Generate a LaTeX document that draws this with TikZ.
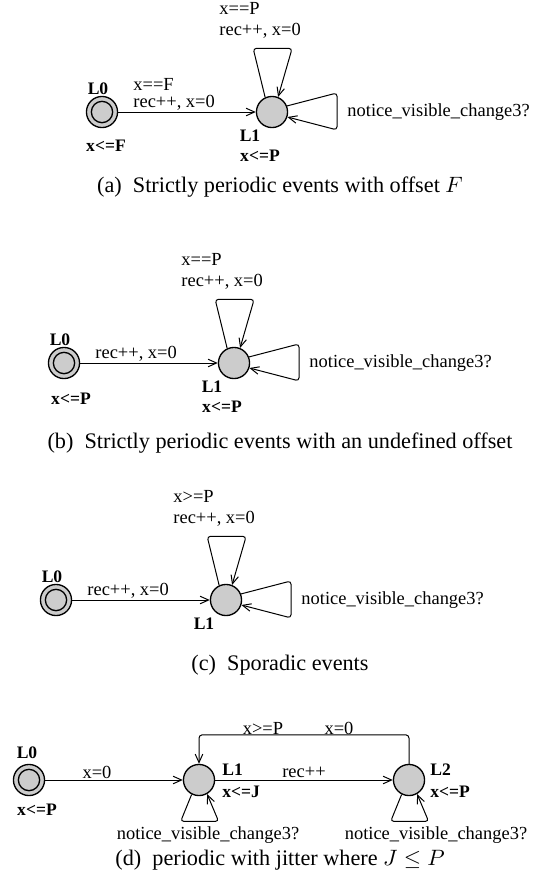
\documentclass[tikz,border=0pt]{standalone}
\usepackage{fontspec}
\setmainfont{Liberation Serif}
\usetikzlibrary{arrows.meta}

\tikzset{
  loc/.style={circle,draw,line width=0.6pt,fill=gray!40,minimum size=14pt,inner sep=0pt},
  initloc/.style={loc,path picture={\draw[line width=0.6pt] (path picture bounding box.center) circle (4.8pt);}},
  lbl/.style={inner sep=0pt,font=\fontsize{8.3}{10}\selectfont},
  boldlbl/.style={inner sep=0pt,font=\fontsize{7.9}{9.5}\selectfont\bfseries},
  subcap/.style={inner sep=0pt,font=\fontsize{10}{12}\selectfont},
  trans/.style={-{Straight Barb[length=3.8pt,width=3.4pt]},line width=0.45pt},
  loopy/.style={trans,rounded corners=1.5pt}
}

\begin{document}
\begin{tikzpicture}[x=0.45pt,y=-0.45pt]
\useasboundingbox (0,0) rectangle (549,881);

% (a) strictly periodic, offset F
\node[initloc] (a0) at (102,112) {};
\node[loc] (a1) at (272,112) {};
\node[boldlbl] (a0n) at (98,89) {L0};
\node[boldlbl] (a0i) at (106,146) {x<=F};
\node[boldlbl] (a1n) at (250,136) {L1};
\node[boldlbl] (a1i) at (260,156) {x<=P};
\draw[trans] (a0) -- (a1);
\node[lbl,anchor=west] (a01g) at (133,84) {x==F};
\node[lbl,anchor=west] (a01u) at (133,103) {rec++, x=0};
\node[lbl,anchor=west] (a11g) at (219,8) {x==P};
\node[lbl,anchor=west] (a11u) at (219,31) {rec++, x=0};
\node[lbl,anchor=west] (a11s) at (347,112) {notice\_visible\_change3?};
\node[subcap] (capa) at (280,187) {(a)\enspace Strictly periodic events with offset $F$};

% (b) strictly periodic, no offset
\node[initloc] (b0) at (64,363) {};
\node[loc] (b1) at (234,363) {};
\node[boldlbl] (b0n) at (60,340) {L0};
\node[boldlbl] (b0i) at (71,399) {x<=P};
\node[boldlbl] (b1n) at (212,387) {L1};
\node[boldlbl] (b1i) at (222,407) {x<=P};
\draw[trans] (b0) -- (b1);
\node[lbl,anchor=west] (b01u) at (95,354) {rec++, x=0};
\node[lbl,anchor=west] (b11g) at (181,259) {x==P};
\node[lbl,anchor=west] (b11u) at (181,282) {rec++, x=0};
\node[lbl,anchor=west] (b11s) at (309,363) {notice\_visible\_change3?};
\node[subcap] (capb) at (280,443) {(b)\enspace Strictly periodic events with an undefined offset};

% (c) sporadic
\node[initloc] (c0) at (56,600) {};
\node[loc] (c1) at (226,600) {};
\node[boldlbl] (c0n) at (52,577) {L0};
\node[boldlbl] (c1n) at (204,624) {L1};
\draw[trans] (c0) -- (c1);
\node[lbl,anchor=west] (c01u) at (87,591) {rec++, x=0};
\node[lbl,anchor=west] (c11g) at (173,496) {x>=P};
\node[lbl,anchor=west] (c11u) at (173,519) {rec++, x=0};
\node[lbl,anchor=west] (c11s) at (301,600) {notice\_visible\_change3?};
\node[subcap] (capc) at (280,665) {(c)\enspace Sporadic events};

% self loops of (a)-(c)
\foreach \n in {a1,b1,c1} {
  \draw[loopy] (\n.115) -- ++(-12,-49) -- ++(39,0) -- (\n.68);
  \draw[loopy] (\n.22) -- ++(50,-13) -- ++(0,37) -- (\n.-18);
}

% (d) periodic with jitter
\node[initloc] (d0) at (29,780) {};
\node[loc] (d1) at (199,780) {};
\node[loc] (d2) at (409,780) {};
\node[boldlbl] (d0n) at (27,753) {L0};
\node[boldlbl] (d0i) at (37,810) {x<=P};
\node[boldlbl,anchor=west] (d1n) at (222,770) {L1};
\node[boldlbl,anchor=west] (d1i) at (222,792) {x<=J};
\node[boldlbl,anchor=west] (d2n) at (430,770) {L2};
\node[boldlbl,anchor=west] (d2i) at (430,792) {x<=P};
\draw[trans] (d0) -- (d1);
\draw[trans] (d1) -- (d2);
\draw[loopy] (d2.north) -- ++(0,-29) -| (d1.north);
\node[lbl] (d01u) at (97,772) {x=0};
\node[lbl] (d12u) at (304,772) {rec++};
\node[lbl] (d21g) at (263,728) {x>=P};
\node[lbl] (d21u) at (339,728) {x=0};
\foreach \n in {d1,d2}
  \draw[loopy] (\n.243) -- ++(-11,27) -- ++(38,0) -- (\n.300);
\node[lbl] (d11s) at (208,835) {notice\_visible\_change3?};
\node[lbl] (d22s) at (436,835) {notice\_visible\_change3?};
\node[subcap] (capd) at (280,860) {(d)\enspace periodic with jitter where $J \leq P$};
\end{tikzpicture}
\end{document}
